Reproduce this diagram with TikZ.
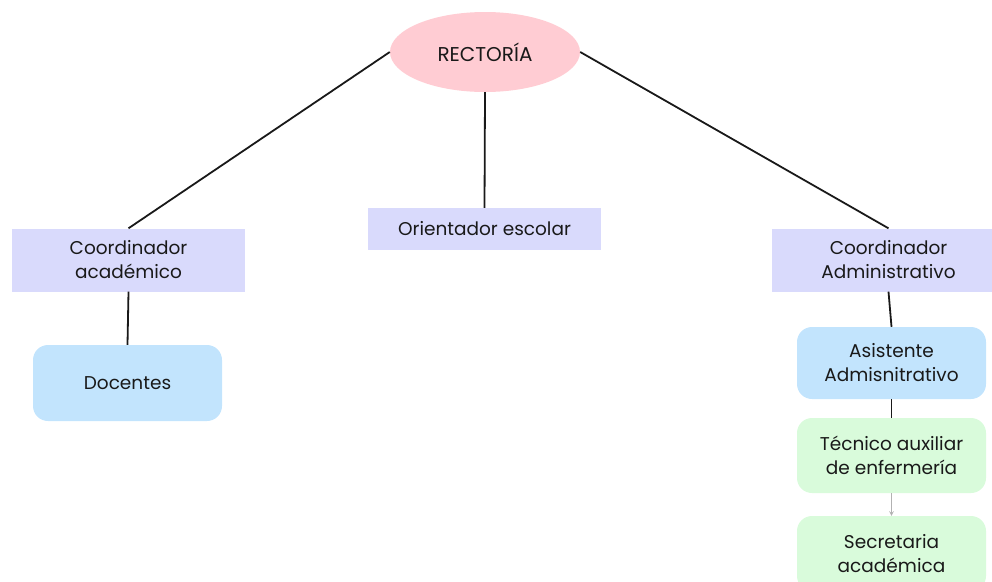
\documentclass[tikz,border=0pt]{standalone}
\usepackage{fontspec}
\setmainfont{Poppins}
\usetikzlibrary{shapes.geometric}
\usetikzlibrary{arrows.meta}
\usetikzlibrary{positioning}

\definecolor{rosa}{RGB}{255,204,211}
\definecolor{lila}{RGB}{217,218,252}
\definecolor{celeste}{RGB}{194,228,253}
\definecolor{menta}{RGB}{217,251,219}

\begin{document}
\begin{tikzpicture}
  [
    x=1pt, y=-1pt,
    >=stealth,
    every node/.style = {font=\fontsize{18.5}{24}\selectfont, align=center, inner sep=0pt, text=black!90},
    jefe/.style  = {ellipse, fill=rosa, minimum width=190pt, minimum height=80pt, font=\fontsize{20}{24}\selectfont},
    cargo/.style = {rectangle, fill=lila, minimum width=233pt, minimum height=63pt},
    grupo/.style = {rectangle, rounded corners=15pt, fill=celeste, minimum width=189pt, minimum height=74pt},
    apoyo/.style = {rectangle, rounded corners=15pt, fill=menta, minimum width=189pt, minimum height=75pt},
    linea/.style = {draw, line width=1.8pt, black!90},
  ]

  \useasboundingbox (0,0) rectangle (992,581);

  % direccion
  \node (rectoria) at (485,52) [jefe] {RECTORÍA};

  % coordinaciones
  \node (coordac)  at (128.5,260) [cargo] {Coordinador\\académico};
  \node (orient)   at (484.5,229) [cargo, minimum height=42pt] {Orientador escolar};
  \node (coordadm) at (888.5,260) [cargo] {Coordinador\\Administrativo};

  % personal
  \node (docentes)  at (127.5,383) [grupo, minimum height=76pt] {Docentes};
  \node (asistente) at (891.5,363) [grupo, minimum height=72pt] {Asistente\\Admisnitrativo};
  \node (tecnico)   at (891.5,455.5) [apoyo] {Técnico auxiliar\\de enfermería};
  \node (secret)    at (891.5,553.5) [apoyo] {Secretaria\\académica};

  % conexiones
  \draw[linea] (rectoria.west) -- (coordac.north);
  \draw[linea] (rectoria.south) -- (orient.north);
  \draw[linea] (rectoria.east) -- (coordadm.north);
  \draw[linea] (coordac.south) -- (docentes.north);
  \draw[linea] (coordadm.south) -- (asistente.north);
  \draw[linea] (asistente.south) -- (tecnico.north);
  \draw[->, black!30, line width=1pt] (tecnico.south) -- (secret.north); % flecha gris
\end{tikzpicture}
\end{document}
